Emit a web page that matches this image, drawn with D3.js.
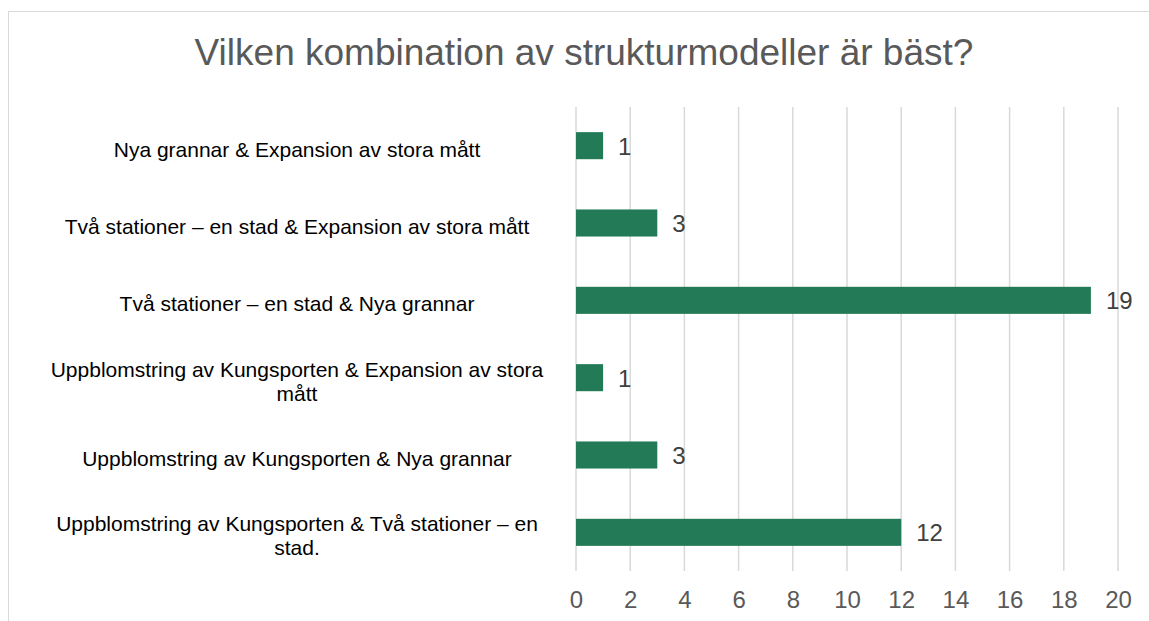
<!DOCTYPE html>
<html>
<head>
<meta charset="utf-8">
<script src="https://cdn.jsdelivr.net/npm/d3@7"></script>
<style>
  body { margin: 0; background: #fff; }
  text { font-family: Arial, "Liberation Sans", sans-serif; }
</style>
</head>
<body>
<svg id="chart" width="1149" height="621"></svg>
<script>
// categories, top to bottom (line breaks as wrapped in the picture)
var categories = [
  "Nya grannar & Expansion av stora mått",
  "Två stationer – en stad & Expansion av stora mått",
  "Två stationer – en stad & Nya grannar",
  "Uppblomstring av Kungsporten & Expansion av stora\nmått",
  "Uppblomstring av Kungsporten & Nya grannar",
  "Uppblomstring av Kungsporten & Två stationer – en\nstad."
];
var values = [1, 3, 19, 1, 3, 12];
var xTicks = [0, 2, 4, 6, 8, 10, 12, 14, 16, 18, 20];
var title = "Vilken kombination av strukturmodeller är bäst?";

var svg = d3.select("#chart");

// outer chart border (only top and left are visible)
svg.append("rect")
    .attr("x", 8.5)
    .attr("y", 11.5)
    .attr("width", 1300)
    .attr("height", 800)
    .attr("fill", "none")
    .attr("stroke", "#d9d9d9")
    .attr("stroke-width", 1);

// title
svg.append("text")
    .attr("x", 584)
    .attr("y", 65)
    .attr("text-anchor", "middle")
    .attr("font-size", "37px")
    .attr("fill", "#595959")
    .text(title);

// plot area
var plotLeft = 576, plotRight = 1118, plotTop = 107, plotBottom = 571;

var x = d3.scaleLinear().domain([0, 20]).range([plotLeft, plotRight]);
var y = d3.scaleBand()
    .domain(d3.range(categories.length))
    .range([plotTop, plotBottom])
    .paddingInner(0.65)
    .paddingOuter(0.325);

// vertical gridlines
svg.append("g")
  .selectAll("line")
  .data(xTicks)
  .enter().append("line")
    .attr("x1", function(d) { return x(d); })
    .attr("x2", function(d) { return x(d); })
    .attr("y1", plotTop)
    .attr("y2", plotBottom)
    .attr("stroke", "#d9d9d9")
    .attr("stroke-width", 1.5);

// x axis tick labels
var xAxis = svg.append("g")
    .attr("transform", "translate(0," + plotBottom + ")")
    .call(d3.axisBottom(x).tickValues(xTicks).tickSize(0).tickPadding(0));
xAxis.select(".domain").remove();
xAxis.selectAll("text")
    .attr("y", 37)
    .attr("dy", null)
    .attr("font-size", "24px")
    .attr("font-family", "Arial, 'Liberation Sans', sans-serif")
    .attr("fill", "#595959");

// bars
svg.append("g")
  .selectAll("rect")
  .data(values)
  .enter().append("rect")
    .attr("x", x(0))
    .attr("y", function(d, i) { return y(i); })
    .attr("width", function(d) { return x(d) - x(0); })
    .attr("height", y.bandwidth())
    .attr("fill", "#237a57");

// value labels
svg.append("g")
  .selectAll("text")
  .data(values)
  .enter().append("text")
    .attr("x", function(d) { return x(d) + 15; })
    .attr("y", function(d, i) { return y(i) + y.bandwidth() / 2 + 9; })
    .attr("font-size", "24px")
    .attr("fill", "#404040")
    .text(function(d) { return d; });

// category labels
var lineH = 24;
var cat = svg.append("g")
  .selectAll("text")
  .data(categories)
  .enter().append("text")
    .attr("text-anchor", "middle")
    .attr("font-size", "21px")
    .attr("fill", "#000");

cat.each(function(d, i) {
  var lines = d.split("\n");
  var cy = y(i) + y.bandwidth() / 2 + 11;
  var t = d3.select(this);
  lines.forEach(function(l, j) {
    t.append("tspan")
      .attr("x", 297)
      .attr("y", cy + (j - (lines.length - 1) / 2) * lineH)
      .text(l);
  });
});
</script>
</body>
</html>
